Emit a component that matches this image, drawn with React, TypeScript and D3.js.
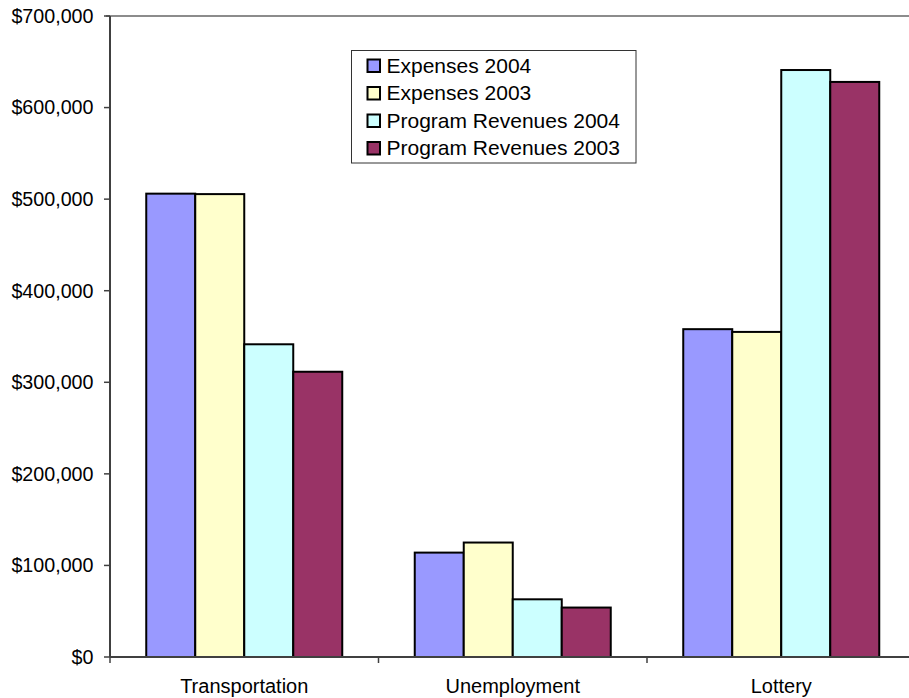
import React from "react";
import * as d3 from "d3";

const categories = ["Transportation", "Unemployment", "Lottery"];
const seriesNames = ["Expenses 2004", "Expenses 2003", "Program Revenues 2004", "Program Revenues 2003"];
const expenses2004 = [506000, 114000, 358000];
const expenses2003 = [505500, 125000, 355000];
const revenues2004 = [341500, 63000, 641000];
const revenues2003 = [311500, 54000, 628000];
const seriesColors = ["#9999FF", "#FFFFCC", "#CCFFFF", "#993366"];
const yTicks = [0, 100000, 200000, 300000, 400000, 500000, 600000, 700000];

const W = 909;
const H = 698;
const left = 110;
const top = 16;
const bottom = 657;
const right = 915.5;

export default function App() {
  const seriesValues = [expenses2004, expenses2003, revenues2004, revenues2003];
  const x = d3.scaleBand<string>().domain(categories).range([left, right]).padding(0);
  const groupW = x.bandwidth() * 0.73;
  const x1 = d3
    .scaleBand<number>()
    .domain(d3.range(seriesNames.length))
    .range([0, groupW])
    .padding(0);
  const y = d3.scaleLinear().domain([0, 700000]).range([bottom, top]);
  const fmt = (v: number) => "$" + d3.format(",")(v);
  const font = "'Liberation Sans', Arial, sans-serif";

  return (
    <svg
      width={W}
      height={H}
      style={{ position: "absolute", left: 0, top: 0, background: "#fff" }}
      fontFamily={font}
    >
      <rect x={0} y={0} width={W} height={H} fill="#fff" />
      {/* plot area top border */}
      <line x1={left - 4} x2={right} y1={top} y2={top} stroke="#8c8c8c" strokeWidth={2} />
      {/* bars */}
      {seriesValues.map((vals, si) =>
        vals.map((v, ci) => {
          const bx = (x(categories[ci]) as number) + (x.bandwidth() - groupW) / 2 + (x1(si) as number);
          return (
            <rect
              key={`${si}-${ci}`}
              x={bx}
              y={y(v)}
              width={x1.bandwidth()}
              height={y(0) - y(v)}
              fill={seriesColors[si]}
              stroke="#000"
              strokeWidth={2}
            />
          );
        })
      )}
      {/* y axis */}
      <line x1={left} x2={left} y1={top} y2={bottom} stroke="#404040" strokeWidth={2} />
      {yTicks.map((t) => (
        <g key={t}>
          <line x1={left - 6} x2={left} y1={y(t)} y2={y(t)} stroke="#404040" strokeWidth={1.5} />
          <text x={93.5} y={y(t)} dy="0.35em" textAnchor="end" fontSize={19.7} fill="#000">
            {fmt(t)}
          </text>
        </g>
      ))}
      {/* x axis */}
      <line x1={left} x2={right} y1={bottom} y2={bottom} stroke="#404040" strokeWidth={2} />
      {categories.map((c) => (
        <g key={c}>
          <line
            x1={x(c) as number}
            x2={x(c) as number}
            y1={bottom}
            y2={bottom + 6}
            stroke="#404040"
            strokeWidth={1.5}
          />
          <text
            x={(x(c) as number) + x.bandwidth() / 2}
            y={693}
            textAnchor="middle"
            fontSize={20}
            fill="#000"
          >
            {c}
          </text>
        </g>
      ))}
      <line x1={right} x2={right} y1={bottom} y2={bottom + 6} stroke="#404040" strokeWidth={1.5} />
      {/* legend */}
      <rect x={351.5} y={50.5} width={284.5} height={112.5} fill="#fff" stroke="#333" strokeWidth={1} />
      {seriesNames.map((s, i) => (
        <g key={s} transform={`translate(0, ${72.5 + i * 27.5})`}>
          <rect x={367.5} y={-13} width={12.5} height={12.5} fill={seriesColors[i]} stroke="#000" strokeWidth={2} />
          <text x={386.5} y={0} fontSize={21} fill="#000">
            {s}
          </text>
        </g>
      ))}
    </svg>
  );
}
